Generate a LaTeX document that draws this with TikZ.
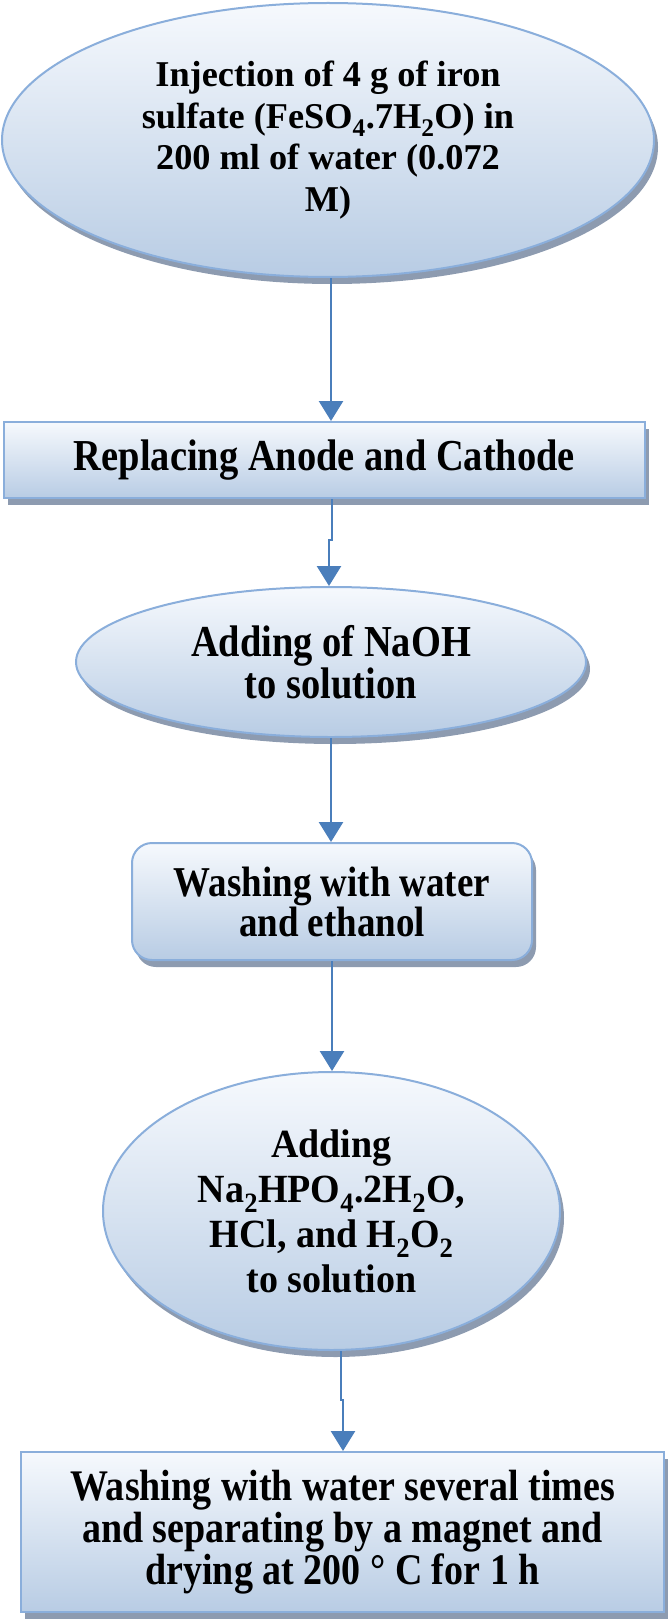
\documentclass[tikz,border=0pt]{standalone}
\usepackage{fontspec}
\setmainfont{Liberation Serif}
\newfontfamily\tallfont[FakeStretch=0.87]{Liberation Serif}
\newfontfamily\midfont[FakeStretch=0.95]{Liberation Serif}
\usetikzlibrary{shapes.geometric,shadows,arrows.meta}
\definecolor{bord}{HTML}{8AAEDB}
\definecolor{topc}{HTML}{F6F9FD}
\definecolor{botc}{HTML}{B8CCE4}
\definecolor{shad}{HTML}{8D9BB0}
\definecolor{arrc}{HTML}{4A7EBB}
\newcommand{\fsz}[2]{\tallfont\fontsize{#1}{#2}\selectfont\bfseries}
\newcommand{\fszm}[2]{\midfont\fontsize{#1}{#2}\selectfont\bfseries}
\newcommand{\fszp}[2]{\fontsize{#1}{#2}\selectfont\bfseries}
\begin{document}
\begin{tikzpicture}[x=1pt,y=-1pt,
  box/.style={draw=bord, line width=2pt, top color=topc, bottom color=botc,
    general shadow={fill=shad, shadow xshift=4pt, shadow yshift=-7pt},
    align=center, font=\fsz{44}{42}, inner sep=0pt},
  oval/.style={box, ellipse},
  rbox/.style={box, rectangle},
  rrbox/.style={box, rectangle, rounded corners=20pt},
  arr/.style={draw=arrc, line width=2.6pt, -{Triangle[width=24pt,length=20pt]}}]
\useasboundingbox (0,0) rectangle (670,1621);

\node[oval, minimum width=652pt, minimum height=274pt, font=\fszp{36.3}{41.5}] (e1) at (328,140)
  {Injection of 4 g of iron\\ sulfate (FeSO\textsubscript{4}.7H\textsubscript{2}O) in\\ 200 ml of water (0.072\\ M)};
\node[rbox, minimum width=641pt, minimum height=76pt, font=\fsz{44.2}{42}] (r1) at (324.5,460)
  {Replacing Anode and Cathode};
\node[oval, minimum width=510pt, minimum height=150pt, font=\fsz{44.2}{40}] (e2) at (331,662)
  {Adding of NaOH\\ to solution};
\node[rrbox, minimum width=400pt, minimum height=117pt, font=\fsz{42.5}{40}] (r2) at (332,901.5)
  {Washing with water\\ and ethanol};
\node[oval, minimum width=457pt, minimum height=278pt, font=\fszm{40}{45}] (e3) at (331.5,1211)
  {Adding\\ Na\textsubscript{2}HPO\textsubscript{4}.2H\textsubscript{2}O,\\ HCl, and H\textsubscript{2}O\textsubscript{2}\\ to solution};
\node[rbox, minimum width=643pt, minimum height=160pt, font=\fsz{43.7}{42}] (r3) at (342.5,1532)
  {Washing with water several times\\ and separating by a magnet and\\ drying at 200 ° C for 1 h};

\coordinate (j2) at (329,540);
\coordinate (j5) at (343,1400);
\draw[arr] ([xshift=3pt]e1.south) -- ([xshift=6.5pt]r1.north);
\draw[arr] ([xshift=7.5pt]r1.south) |- (j2) -- (j2 |- e2.north);
\draw[arr] (e2.south) -- (e2.south |- r2.north);
\draw[arr] (r2.south) -- (r2.south |- e3.north);
\draw[arr] ([xshift=9.5pt]e3.south) |- (j5) -- (j5 |- r3.north);
\end{tikzpicture}
\end{document}
